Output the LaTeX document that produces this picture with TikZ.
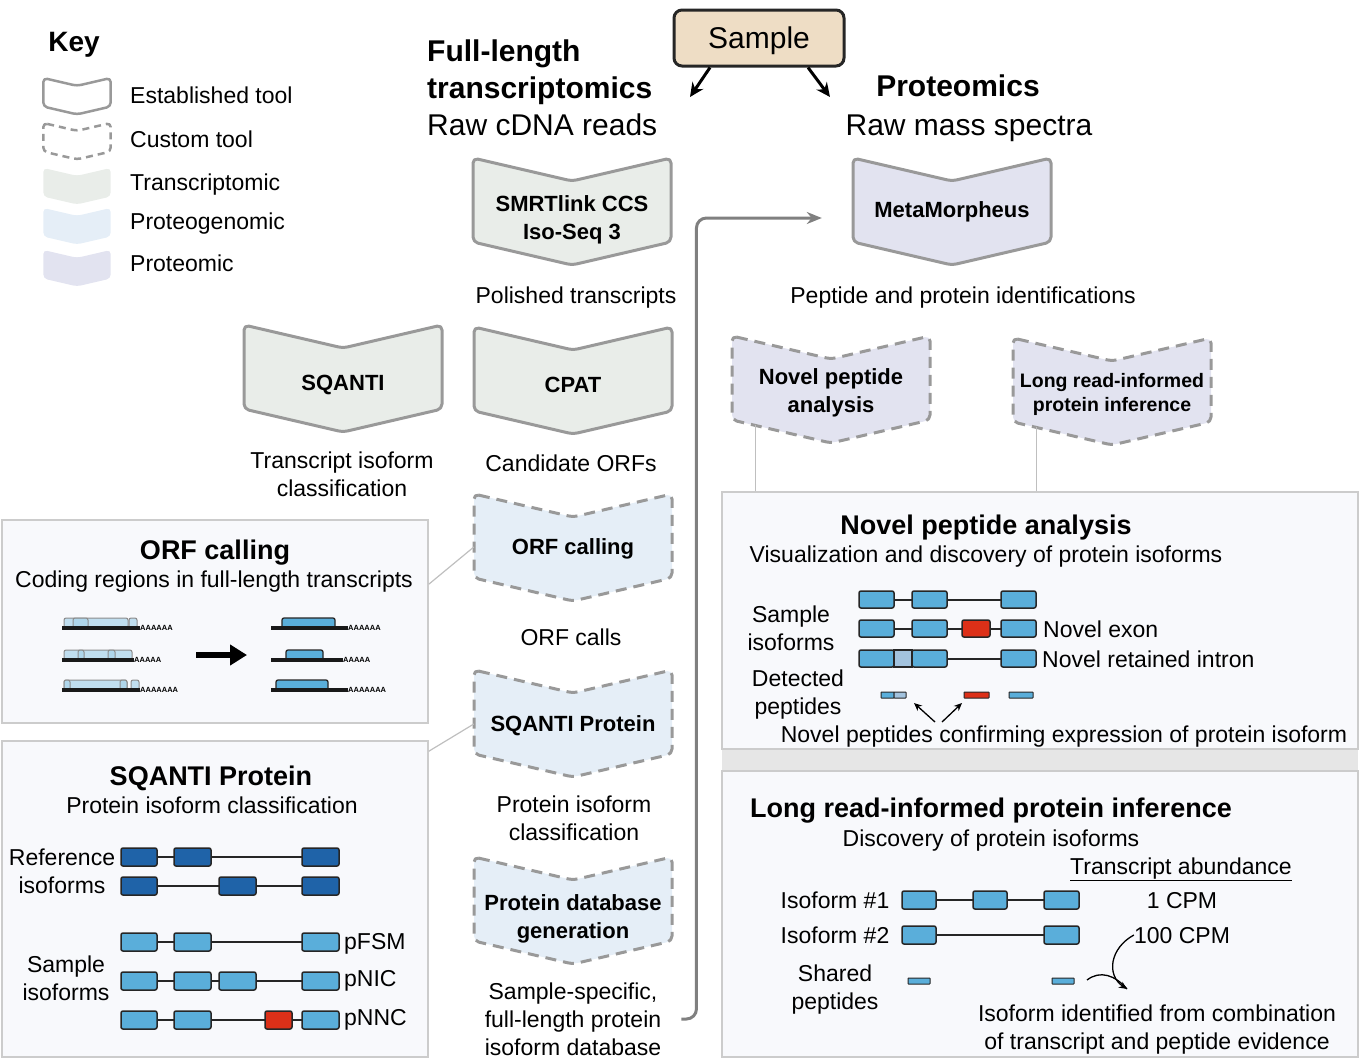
\documentclass[tikz,border=0pt]{standalone}
\usepackage{fontspec}
\setmainfont{Liberation Sans}
\usepackage{tikz}
\usetikzlibrary{arrows.meta,positioning}

\definecolor{chevgray}{HTML}{999999}
\definecolor{transfill}{HTML}{E9EDE9}
\definecolor{pgfill}{HTML}{E5EEF7}
\definecolor{protfill}{HTML}{E2E3F0}
\definecolor{samplefill}{HTML}{EEDDC5}
\definecolor{panelfill}{HTML}{F8F9FC}
\definecolor{panelline}{HTML}{CCCCCC}
\definecolor{bandgray}{HTML}{E6E6E6}
\definecolor{refblue}{HTML}{1F63A8}
\definecolor{exonblue}{HTML}{5AAEDA}
\definecolor{novelred}{HTML}{DC3018}
\definecolor{retblue}{HTML}{A3C3DE}
\definecolor{orflight}{HTML}{A9D3EA}

% chevron outline: #1 style, #2 centre x, #3 top y, #4 scale
\newcommand{\chevron}[4]{%
  \begin{scope}[shift={(#2,#3)},scale=#4]
    \path[#1] (-99,0) -- (0,23) -- (99,0) -- (99,84) -- (0,107) -- (-99,84) -- cycle;
  \end{scope}}

\begin{document}
\begin{tikzpicture}[x=1pt,y=-1pt]

	\tikzstyle{lab}=[inner sep=0pt,text depth=0pt,align=center,font=\fontsize{23}{28}\selectfont]
	\tikzstyle{tooltext}=[inner sep=0pt,text depth=0pt,align=center,minimum width=198pt,font=\bfseries\fontsize{22}{28}\selectfont]
	\tikzstyle{estab}=[draw=chevgray,line width=3pt,rounded corners=5pt,line join=round]
	\tikzstyle{custom}=[estab,dash pattern=on 11pt off 7pt]
	\tikzstyle{panel}=[draw=panelline,line width=1.5pt,fill=panelfill,inner sep=0pt]
	\tikzstyle{paneltitle}=[inner sep=0pt,text depth=0pt,font=\bfseries\fontsize{27}{32}\selectfont]
	\tikzstyle{exon}=[draw=black!85,line width=1.5pt,rounded corners=2pt]
	\tikzstyle{intron}=[draw=black!85,line width=2pt]
	\tikzstyle{orfbox}=[draw=black!45,fill=orflight,fill opacity=0.7,line width=1pt,rounded corners=2pt]
	\tikzstyle{polya}=[inner sep=0pt,font=\bfseries\fontsize{7.5}{8}\selectfont]
	\tikzstyle{link}=[draw=black!25,line width=1.2pt]
	\tikzstyle{flow}=[draw=black!50,line width=3pt,rounded corners=10pt,-{Stealth[length=15pt,width=12pt]}]
	\tikzstyle{bigarrow}=[line width=3pt,-{Stealth[length=14pt,width=13pt]}]
	\tikzstyle{smallarrow}=[line width=1.3pt,-{Stealth[length=8pt,width=7pt]}]

	\useasboundingbox (0,0) rectangle (1367,1060);

	% key
	\node[inner sep=0pt,text depth=0pt,font=\bfseries\fontsize{28}{32}\selectfont] (key) at (74,42) {Key};
	\chevron{estab,line width=2.5pt,rounded corners=4pt}{77}{78}{0.34}
	\chevron{custom,line width=2.5pt,rounded corners=4pt,dash pattern=on 7pt off 5pt}{77}{123}{0.34}
	\chevron{fill=transfill,rounded corners=4pt}{77}{168}{0.34}
	\chevron{fill=pgfill,rounded corners=4pt}{77}{208}{0.34}
	\chevron{fill=protfill,rounded corners=4pt}{77}{250}{0.34}
	\node[lab,anchor=west] (kest) at (130,95) {Established tool};
	\node[lab,anchor=west] (kcus) at (130,139) {Custom tool};
	\node[lab,anchor=west] (ktra) at (130,182) {Transcriptomic};
	\node[lab,anchor=west] (kpg) at (130,221) {Proteogenomic};
	\node[lab,anchor=west] (kpro) at (130,263) {Proteomic};

	% sample and the two branches
	\node[draw=black!85,line width=3pt,rounded corners=8pt,fill=samplefill,minimum width=170pt,minimum height=56pt,
		inner sep=0pt,text depth=0pt,font=\fontsize{30}{34}\selectfont] (sample) at (759,38) {Sample};
	\node[inner sep=0pt,anchor=base west,font=\bfseries\fontsize{30}{36}\selectfont] (flhead) at (427,61) {Full-length};
	\node[inner sep=0pt,anchor=base west,font=\bfseries\fontsize{30}{36}\selectfont] (trhead) at (427,98) {transcriptomics};
	\node[inner sep=0pt,anchor=base west,font=\fontsize{30}{36}\selectfont] (rawcdna) at (427,135) {Raw cDNA reads};
	\node[inner sep=0pt,anchor=base,font=\bfseries\fontsize{30}{36}\selectfont] (prohead) at (958,96) {Proteomics};
	\node[inner sep=0pt,anchor=base,font=\fontsize{30}{36}\selectfont] (rawms) at (969,135) {Raw mass spectra};
	\coordinate (txend) at (690,97);
	\coordinate (prend) at (830,97);
	\draw[bigarrow] ([xshift=-49pt]sample.south) -- (txend);
	\draw[bigarrow] ([xshift=49pt]sample.south) -- (prend);

	% tools
	\chevron{estab,fill=transfill}{572}{158}{1}
	\node[tooltext] (smrt) at (572,218) {SMRTlink CCS\\Iso-Seq 3};
	\chevron{estab,fill=protfill}{952}{158}{1}
	\node[tooltext] (meta) at (952,210) {MetaMorpheus};
	\chevron{estab,fill=transfill}{343}{325}{1}
	\node[tooltext] (sqanti) at (343,383) {SQANTI};
	\chevron{estab,fill=transfill}{573}{327}{1}
	\node[tooltext] (cpat) at (573,385) {CPAT};
	\chevron{custom,fill=pgfill}{573}{494}{1}
	\node[tooltext] (orf) at (573,547) {ORF calling};
	\chevron{custom,fill=pgfill}{573}{670}{1}
	\node[tooltext] (sqp) at (573,724) {SQANTI Protein};
	\chevron{custom,fill=pgfill}{573}{857}{1}
	\node[tooltext] (dbgen) at (573,917) {Protein database\\generation};
	\chevron{custom,fill=protfill}{831}{336}{1}
	\node[tooltext] (novtool) at (831,391) {Novel peptide\\analysis};
	\chevron{custom,fill=protfill}{1112}{338}{1}
	\node[tooltext,font=\bfseries\fontsize{19.5}{24}\selectfont] (longtool) at (1112,392) {Long read-informed\\protein inference};

	% outputs
	\node[lab] (polished) at (576,295) {Polished transcripts};
	\node[lab] (ticlass) at (342,474) {Transcript isoform\\classification};
	\node[lab] (candorf) at (571,463) {Candidate ORFs};
	\node[lab] (pepid) at (963,295) {Peptide and protein identifications};
	\node[lab] (orfcalls) at (571,637) {ORF calls};
	\node[lab] (piclass) at (574,818) {Protein isoform\\classification};
	\node[lab] (dbtext) at (573,1019) {Sample-specific,\\full-length protein\\isoform database};
	\draw[flow] ([xshift=20pt]dbtext.east) -- ++(15,0) |- ([xshift=-31pt,yshift=-8pt]meta.west);

	% panels
	\fill[bandgray] (722,745) rectangle (1358,775);
	\node[panel,minimum width=426pt,minimum height=203pt] (orfpanel) at (215,621.5) {};
	\node[panel,minimum width=426pt,minimum height=316pt] (sqpanel) at (215,899) {};
	\node[panel,minimum width=636pt,minimum height=257pt] (novpanel) at (1040,620.5) {};
	\node[panel,minimum width=636pt,minimum height=286pt] (lrpanel) at (1040,914) {};
	\draw[link] ([yshift=-65pt]orfpanel.north east) -- (orf.west);
	\draw[link] ([yshift=-11pt]sqpanel.north east) -- (sqp.west);
	\draw[link] ([xshift=24pt]novtool.west |- novpanel.north) -- ++(0,-66);
	\draw[link] ([xshift=24pt]longtool.west |- novpanel.north) -- ++(0,-64);

	% ORF calling panel
	\node[paneltitle] (orftitle) at (215,550) {ORF calling};
	\node[lab] (orfsub) at (214,579) {Coding regions in full-length transcripts};
	\path[orfbox] (64,618) rectangle (128,628);
	\path[orfbox] (73,618) rectangle (88,628);
	\path[orfbox] (129,618) rectangle (137,628);
	\fill[black!90] (62,626) rectangle (140,630);
	\node[polya,anchor=base west] (pa1) at (140,630) {AAAAAA};
	\path[orfbox] (64,650) rectangle (132,660);
	\path[orfbox] (78,650) rectangle (84,660);
	\path[orfbox] (108,650) rectangle (115,660);
	\fill[black!90] (62,658) rectangle (134,662);
	\node[polya,anchor=base west] (pa2) at (134,662) {AAAAA};
	\path[orfbox] (64,680) rectangle (127,690);
	\path[orfbox] (64,680) rectangle (70,690);
	\path[orfbox] (120,680) rectangle (127,690);
	\path[orfbox] (131,680) rectangle (139,690);
	\fill[black!90] (62,688) rectangle (140,692);
	\node[polya,anchor=base west] (pa3) at (140,692) {AAAAAAA};
	\draw[line width=6pt,-{Triangle[length=17pt,width=20pt]}] (196,655) -- (247,655);
	\draw[exon,line width=1.3pt,fill=exonblue] (282,618) rectangle (335,628);
	\fill[black!90] (271,626) rectangle (348,630);
	\node[polya,anchor=base west] (pa4) at (348,630) {AAAAAA};
	\draw[exon,line width=1.3pt,fill=exonblue] (286,650) rectangle (323,660);
	\fill[black!90] (271,658) rectangle (343,662);
	\node[polya,anchor=base west] (pa5) at (343,662) {AAAAA};
	\draw[exon,line width=1.3pt,fill=exonblue] (276,680) rectangle (328,690);
	\fill[black!90] (271,688) rectangle (348,692);
	\node[polya,anchor=base west] (pa6) at (348,692) {AAAAAAA};

	% SQANTI Protein panel
	\node[paneltitle] (sqptitle) at (211,776) {SQANTI Protein};
	\node[lab] (sqpsub) at (212,805) {Protein isoform classification};
	\node[lab] (refiso) at (62,871) {Reference\\isoforms};
	\node[lab] (samiso) at (66,978) {Sample\\isoforms};
	\draw[intron] (121,857) -- (339,857);
	\foreach \a/\b in {121/157,174/211,302/339} \draw[exon,fill=refblue] (\a,848) rectangle (\b,866);
	\draw[intron] (121,886) -- (339,886);
	\foreach \a/\b in {121/157,219/256,302/339} \draw[exon,fill=refblue] (\a,877) rectangle (\b,895);
	\draw[intron] (121,942) -- (339,942);
	\foreach \a/\b in {121/157,174/211,302/339} \draw[exon,fill=exonblue] (\a,933) rectangle (\b,951);
	\draw[intron] (121,981) -- (339,981);
	\foreach \a/\b in {121/157,174/211,219/256,302/339} \draw[exon,fill=exonblue] (\a,972) rectangle (\b,990);
	\draw[intron] (121,1020) -- (339,1020);
	\foreach \a/\b in {121/157,174/211,302/339} \draw[exon,fill=exonblue] (\a,1011) rectangle (\b,1029);
	\draw[exon,fill=novelred] (265,1011) rectangle (292,1029);
	\node[lab,anchor=west] (pfsm) at (344,941) {pFSM};
	\node[lab,anchor=west] (pnic) at (344,978) {pNIC};
	\node[lab,anchor=west] (pnnc) at (344,1017) {pNNC};

	% Novel peptide analysis panel
	\node[paneltitle] (novtitle) at (986,525) {Novel peptide analysis};
	\node[lab] (novsub) at (986,554) {Visualization and discovery of protein isoforms};
	\node[lab] (novsam) at (791,628) {Sample\\isoforms};
	\node[lab] (novdet) at (798,692) {Detected\\peptides};
	\draw[intron] (859,600) -- (1036,600);
	\foreach \a/\b in {859/894,912/947,1001/1036} \draw[exon,fill=exonblue] (\a,591) rectangle (\b,608);
	\draw[intron] (859,629) -- (1036,629);
	\foreach \a/\b in {859/894,912/947,1001/1036} \draw[exon,fill=exonblue] (\a,620) rectangle (\b,637);
	\draw[exon,fill=novelred] (962,620) rectangle (990,637);
	\draw[intron] (947,659) -- (1001,659);
	\draw[exon,fill=exonblue] (859,650) rectangle (894,667);
	\draw[exon,fill=retblue,rounded corners=0pt] (894,650) rectangle (912,667);
	\draw[exon,fill=exonblue] (912,650) rectangle (947,667);
	\draw[exon,fill=exonblue] (1001,650) rectangle (1036,667);
	\node[lab,anchor=west] (novexon) at (1043,629) {Novel exon};
	\node[lab,anchor=west] (novret) at (1042,659) {Novel retained intron};
	\draw[exon,line width=1pt,rounded corners=0.5pt,fill=exonblue] (881,692) rectangle (894,698);
	\draw[exon,line width=1pt,rounded corners=0.5pt,fill=retblue] (894,692) rectangle (906,698);
	\draw[exon,line width=1pt,rounded corners=0.5pt,fill=novelred] (964,692) rectangle (989,698);
	\draw[exon,line width=1pt,rounded corners=0.5pt,fill=exonblue] (1009,692) rectangle (1033,698);
	\node[lab] (novfoot) at (1064,734) {Novel peptides confirming expression of protein isoform};
	\coordinate (pepa) at (914,703);
	\coordinate (pepb) at (962,703);
	\draw[smallarrow] (935,722) -- (pepa);
	\draw[smallarrow] (942,722) -- (pepb);

	% Long read-informed protein inference panel
	\node[paneltitle] (lrtitle) at (991,808) {Long read-informed protein inference};
	\node[lab] (lrsub) at (991,838) {Discovery of protein isoforms};
	\node[lab] (abund) at (1181,866) {\underline{Transcript abundance}};
	\node[lab] (iso1) at (835,900) {Isoform \#1};
	\node[lab] (iso2) at (835,935) {Isoform \#2};
	\node[lab] (shared) at (835,987) {Shared\\peptides};
	\draw[intron] (902,900) -- (1079,900);
	\foreach \a/\b in {902/936,973/1007,1044/1079} \draw[exon,fill=exonblue] (\a,891) rectangle (\b,909);
	\draw[intron] (902,935) -- (1079,935);
	\foreach \a/\b in {902/936,1044/1079} \draw[exon,fill=exonblue] (\a,926) rectangle (\b,944);
	\draw[exon,line width=1pt,rounded corners=0.5pt,fill=exonblue] (908,978) rectangle (930,984);
	\draw[exon,line width=1pt,rounded corners=0.5pt,fill=exonblue] (1052,978) rectangle (1074,984);
	\node[lab] (cpm1) at (1182,900) {1 CPM};
	\node[lab] (cpm2) at (1182,935) {100 CPM};
	\node[lab] (identified) at (1157,1027) {Isoform identified from combination\\of transcript and peptide evidence};
	\coordinate (ident) at (1127,989);
	\coordinate (pepend) at (1087,980);
	\draw[smallarrow] (cpm2.west) .. controls (1110,948) and (1106,975) .. (ident);
	\draw[line width=1.3pt] (pepend) .. controls (1100,970) and (1115,975) .. (ident);

\end{tikzpicture}
\end{document}
